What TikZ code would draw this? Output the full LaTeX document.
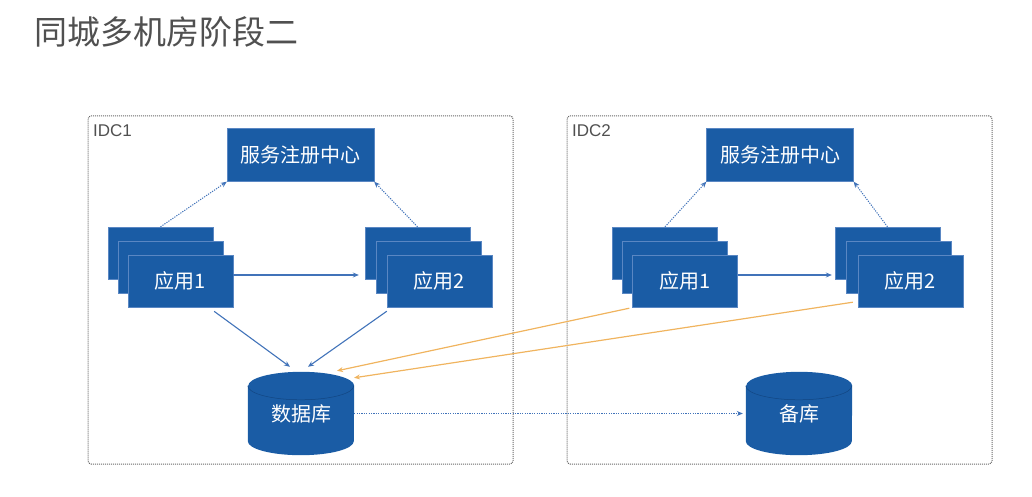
\documentclass[tikz,border=0pt]{standalone}
\usepackage{fontspec}
\newfontfamily\cjk{Noto Sans CJK SC}
\newfontfamily\lat{Liberation Sans}
\usetikzlibrary{arrows.meta,backgrounds,calc}
\definecolor{boxblue}{RGB}{26,92,165}
\definecolor{edgeblue}{RGB}{90,135,195}
\definecolor{lineblue}{RGB}{65,115,185}
\definecolor{darkrim}{RGB}{18,70,130}
\definecolor{orangeline}{RGB}{240,180,95}
\definecolor{framegray}{RGB}{105,105,105}
\definecolor{titlegray}{RGB}{80,80,80}
\tikzset{
  boxtext/.style={text=white, font=\cjk\fontsize{20}{24}\selectfont},
  regbox/.style={boxtext, fill=boxblue, draw=edgeblue, line width=0.4pt, minimum width=147pt, minimum height=53pt, inner sep=0pt},
  appbox/.style={boxtext, fill=boxblue, draw=edgeblue, line width=0.4pt, minimum width=105pt, minimum height=52pt, inner sep=0pt},
  dbnode/.style={boxtext, minimum width=106pt, minimum height=83pt, inner sep=0pt},
  cylfill/.style={fill=boxblue},
  idcframe/.style={draw=framegray, dash pattern=on 1pt off 1pt, line width=1pt, rounded corners=3pt, minimum width=425pt, minimum height=348pt, inner sep=0pt},
  idclabel/.style={text=titlegray, font=\lat\fontsize{17}{20}\selectfont, anchor=base west, inner sep=0pt},
  tip/.style={-{Stealth[length=6pt,width=5pt]}},
  solidarrow/.style={tip, draw=lineblue, line width=1.1pt},
  dotarrow/.style={tip, draw=lineblue, dash pattern=on 1.2pt off 1.2pt, line width=1pt},
  orangearrow/.style={tip, draw=orangeline, line width=1.2pt},
}
\begin{document}
\begin{tikzpicture}[x=1pt,y=1pt]
\useasboundingbox (0,0) rectangle (1032,496);

% title
\node[anchor=base west, inner sep=0pt, text=titlegray, font=\cjk\fontsize{33}{38}\selectfont] (title) at (34,451) {同城多机房阶段二};

% frames
\node[idcframe] (idc1) at (300.5,206) {};
\node[idcframe] (idc2) at (779.5,206) {};
\node[idclabel] (l1) at (93,359) {IDC1};
\node[idclabel] (l2) at (572,359) {IDC2};

% registries
\node[regbox] (reg1) at (300.5,341) {服务注册中心};
\node[regbox] (reg2) at (780,341) {服务注册中心};

% IDC1 apps
\node[appbox] (a1c) at (160.5,243) {};
\node[appbox] (a1b) at (170.5,229) {};
\node[appbox] (a1) at (180.5,215) {应用1};
\node[appbox] (a2c) at (417.5,243) {};
\node[appbox] (a2b) at (428.5,229) {};
\node[appbox] (a2) at (439.5,215) {应用2};

% IDC2 apps
\node[appbox] (b1c) at (665,243) {};
\node[appbox] (b1b) at (675,229) {};
\node[appbox] (b1) at (685,215) {应用1};
\node[appbox] (b2c) at (887.5,243) {};
\node[appbox] (b2b) at (899,229) {};
\node[appbox] (b2) at (910.5,215) {应用2};

% databases
\node[dbnode] (db) at (301,82.5) {数据库};
\node[dbnode] (bk) at (799,82.5) {备库};
\begin{scope}[on background layer]
  \foreach \n in {db,bk}{
    \fill[cylfill] ([yshift=-14]\n.north west) -- ([yshift=14]\n.south west)
      arc[start angle=180,end angle=360,x radius=53,y radius=14]
      -- ([yshift=-14]\n.north east)
      arc[start angle=0,end angle=180,x radius=53,y radius=14] -- cycle;
    \draw[darkrim, line width=0.5pt] ([yshift=-14]\n.north west)
      arc[start angle=180,end angle=360,x radius=53,y radius=14];
  }
\end{scope}

% registry links
\draw[dotarrow] (a1c.north) -- (reg1.south west);
\draw[dotarrow] (a2c.north) -- (reg1.south east);
\draw[dotarrow] (b1c.north) -- (reg2.south west);
\draw[dotarrow] (b2c.north) -- (reg2.south east);

% app to app
\draw[solidarrow, shorten >=6pt] ([yshift=6]a1.east) -- ([yshift=6]a1.east -| a2c.west);
\draw[solidarrow, shorten >=3pt] ([yshift=6]b1.east) -- ([yshift=6]b1.east -| b2c.west);

% apps to database
\draw[solidarrow, shorten <=7pt] ([xshift=28]a1.south) -- ([shift={(-11,5)}]db.north);
\draw[solidarrow, shorten <=7pt] ([xshift=-47]a2.south) -- ([shift={(7,5)}]db.north);
\draw[orangearrow] ([shift={(-3,-1)}]b1.south west) -- ([shift={(36,1)}]db.north);
\draw[orangearrow] ([shift={(-5,5)}]b2.south west) -- ([shift={(53,-6)}]db.north);

% replication
\draw[dotarrow, shorten >=3pt] (db.east) -- (bk.west);
\end{tikzpicture}
\end{document}
